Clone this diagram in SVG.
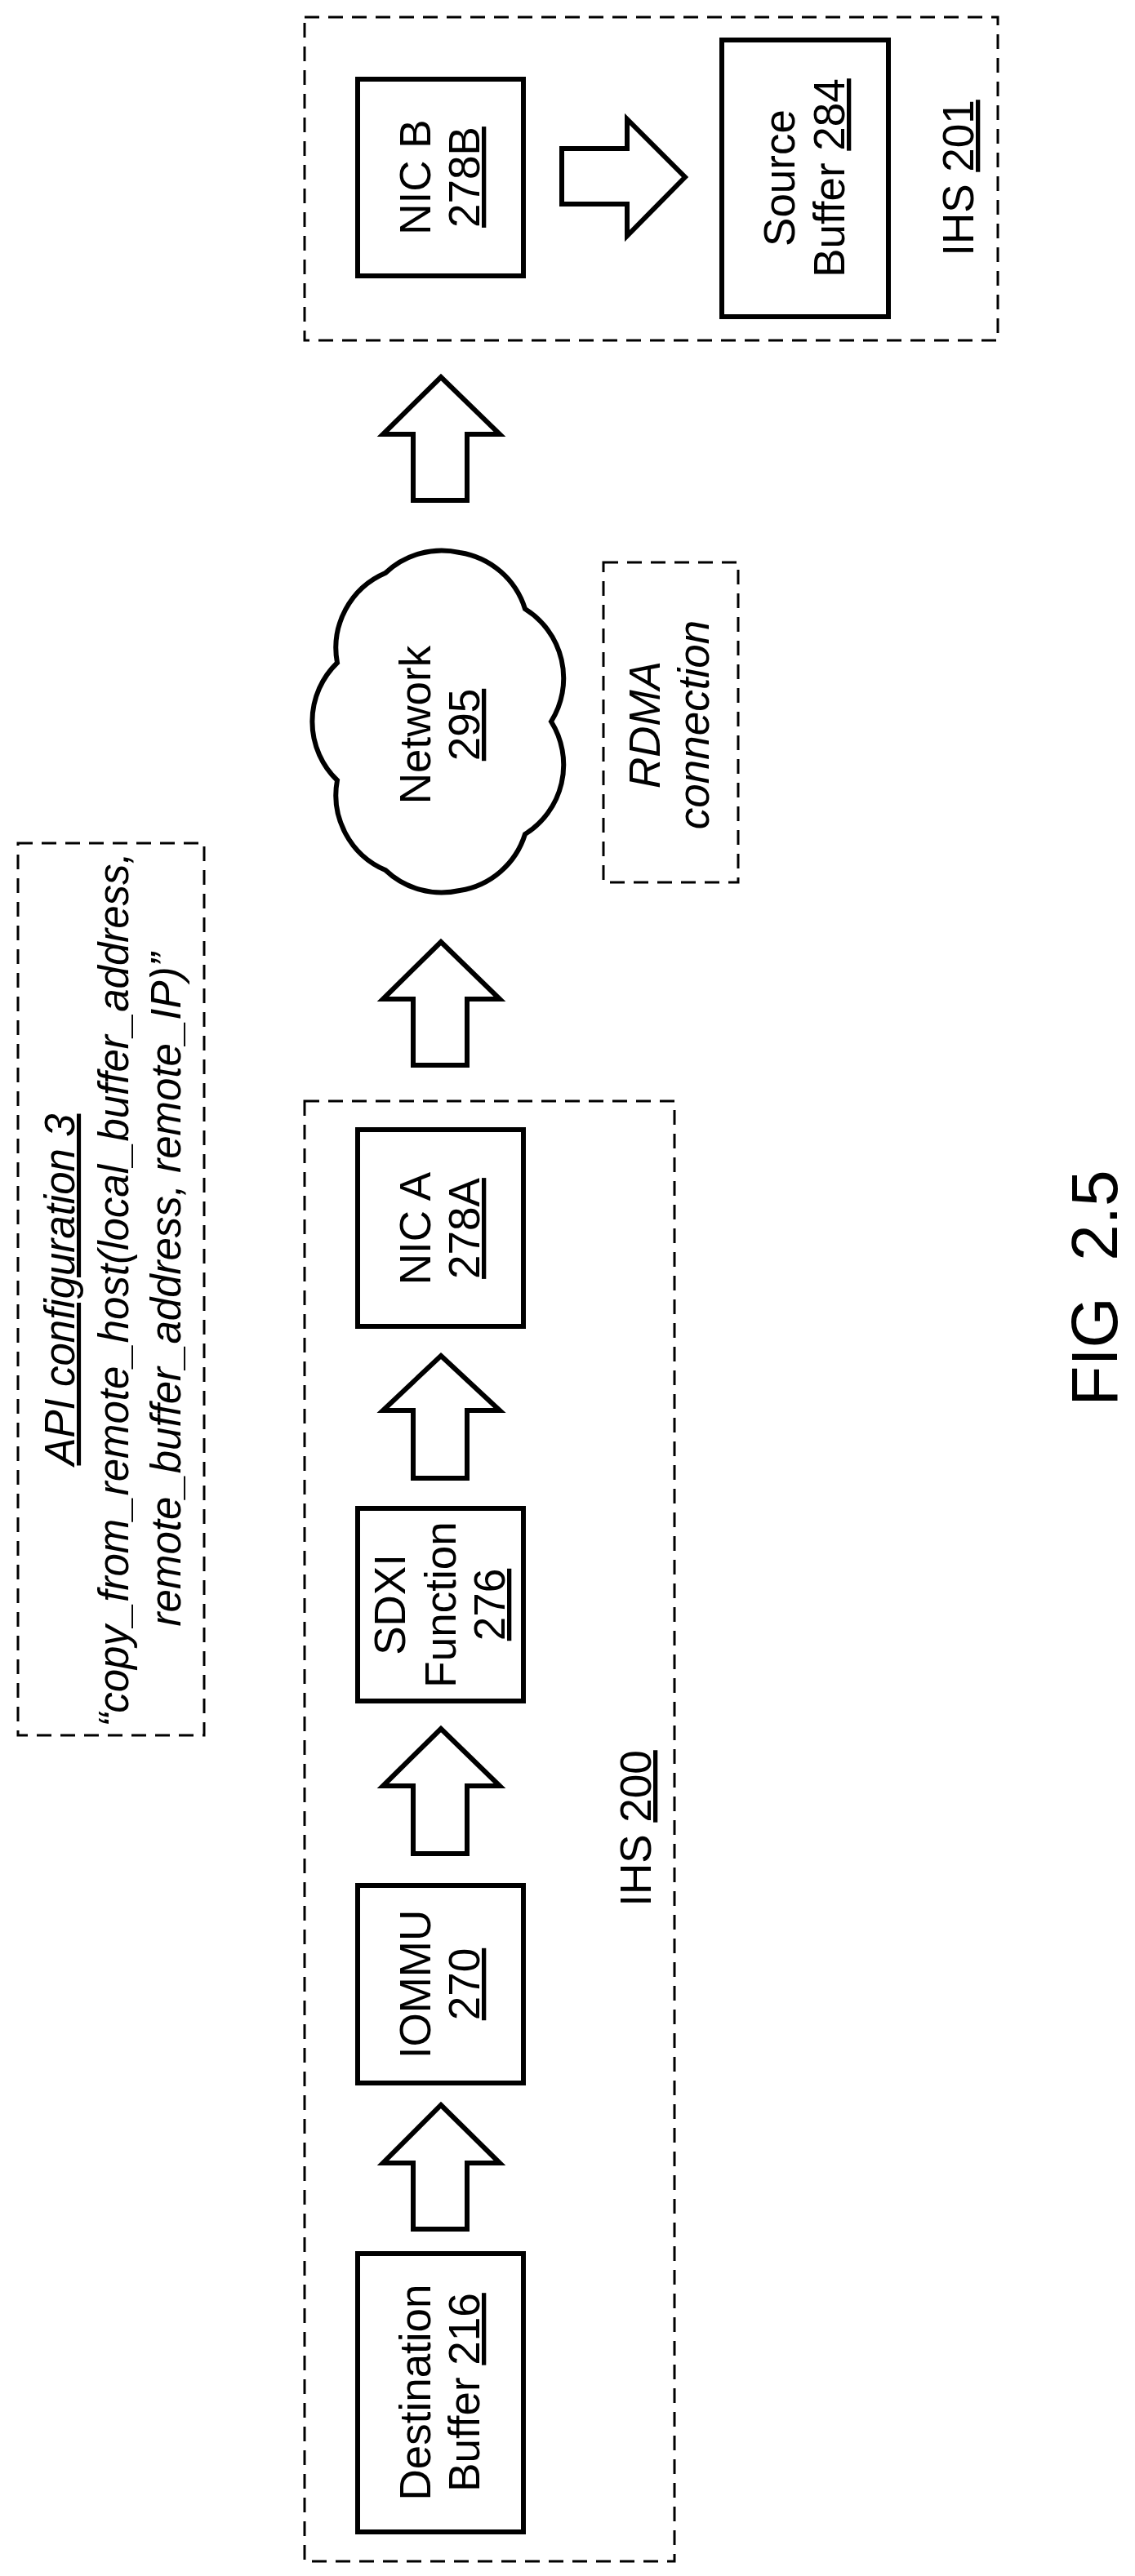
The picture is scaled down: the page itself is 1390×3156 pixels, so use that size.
<svg xmlns="http://www.w3.org/2000/svg" width="1390" height="3156" viewBox="0 0 1390 3156">
<style>
.box{fill:#fff;stroke:#000;stroke-width:6}
.dash{fill:none;stroke:#000;stroke-width:3;stroke-dasharray:18 11}
.arr{fill:#fff;stroke:#000;stroke-width:6;stroke-linejoin:miter}
text{font-family:"Liberation Sans",Arial,sans-serif;font-size:53px;fill:#000;text-anchor:middle}
.it{font-style:italic}
.u{text-decoration:underline}
</style>
<rect width="1390" height="3156" fill="#fff"/>
<g id="ihs201"><rect class="dash" x="373" y="21" width="849" height="396"/><text transform="translate(1192,218) rotate(-90)">IHS <tspan class="u">201</tspan></text></g>
<g id="ihs200"><rect class="dash" x="373" y="1349" width="453" height="1789"/><text transform="translate(797,2240) rotate(-90)">IHS <tspan class="u">200</tspan></text></g>
<g id="api"><rect class="dash" x="22" y="1033" width="228" height="1093"/>
<text class="it" transform="translate(0,1580) rotate(-90)" style="font-size:51px"><tspan x="0" y="91" class="u">API configuration 3</tspan><tspan x="0" y="157">“copy_from_remote_host(local_buffer_address,</tspan><tspan x="0" y="221">remote_buffer_address, remote_IP)”</tspan></text></g>
<g id="rdma"><rect class="dash" x="739" y="689" width="165" height="392"/><text class="it" transform="translate(0,888) rotate(-90)"><tspan x="0" y="808">RDMA</tspan><tspan x="0" y="868">connection</tspan></text></g>
<g id="nicb"><rect class="box" x="438" y="97" width="203" height="241"/><text transform="translate(540,217) rotate(-90)"><tspan x="0" y="-13">NIC B</tspan><tspan x="0" y="47" class="u">278B</tspan></text></g>
<g id="source"><rect class="box" x="884" y="49" width="204" height="339"/><text transform="translate(986,218) rotate(-90)"><tspan x="0" y="-13">Source</tspan><tspan x="0" y="48">Buffer <tspan class="u">284</tspan></tspan></text></g>
<g id="network"><path class="box" d="M675,884 A100,100 0 0 1 643,1022 A100,100 0 0 1 563,1091 A100,100 0 0 1 472,1066 A100,100 0 0 1 413,956 A100,100 0 0 1 413,812 A100,100 0 0 1 472,702 A100,100 0 0 1 563,677 A100,100 0 0 1 643,746 A100,100 0 0 1 675,884 Z" stroke-width="4"/><text transform="translate(540,888) rotate(-90)"><tspan x="0" y="-13">Network</tspan><tspan x="0" y="47" class="u">295</tspan></text></g>
<g id="nica"><rect class="box" x="438" y="1384" width="203" height="241"/><text transform="translate(540,1505) rotate(-90)"><tspan x="0" y="-13">NIC A</tspan><tspan x="0" y="47" class="u">278A</tspan></text></g>
<g id="sdxi"><rect class="box" x="438" y="1848" width="203" height="236"/><text transform="translate(540,1966) rotate(-90)"><tspan x="0" y="-44">SDXI</tspan><tspan x="0" y="18">Function</tspan><tspan x="0" y="78" class="u">276</tspan></text></g>
<g id="iommu"><rect class="box" x="438" y="2310" width="203" height="242"/><text transform="translate(540,2431) rotate(-90)"><tspan x="0" y="-13">IOMMU</tspan><tspan x="0" y="47" class="u">270</tspan></text></g>
<g id="dest"><rect class="box" x="438" y="2761" width="203" height="341"/><text transform="translate(540,2931) rotate(-90)"><tspan x="0" y="-13">Destination</tspan><tspan x="0" y="47">Buffer <tspan class="u">216</tspan></tspan></text></g>
<g id="connectors">
<polygon class="arr" points="839,217 768,289 768,250 688,250 688,182 768,182 768,146"/>
<polygon class="arr" points="540,462 612,532 572,532 572,613 506,613 506,532 469,532"/>
<polygon class="arr" points="540,1154 612,1224 572,1224 572,1305 506,1305 506,1224 469,1224"/>
<polygon class="arr" points="540,1661 612,1728 572,1728 572,1811 506,1811 506,1728 469,1728"/>
<polygon class="arr" points="540,2118 612,2188 572,2188 572,2271 506,2271 506,2188 469,2188"/>
<polygon class="arr" points="540,2579 612,2650 572,2650 572,2731 506,2731 506,2650 469,2650"/>
</g>
<text transform="translate(1368,1578) rotate(-90)" style="font-size:80px" xml:space="preserve">FIG  2.5</text>
</svg>
